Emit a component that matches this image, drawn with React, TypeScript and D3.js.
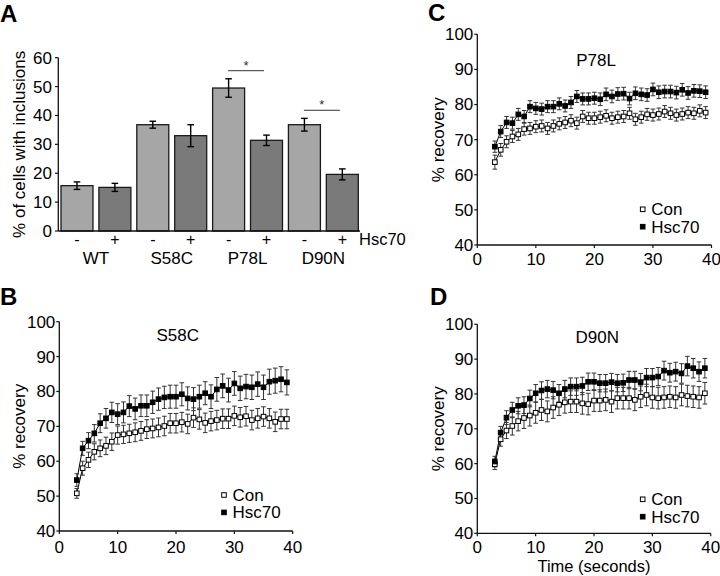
import React from 'react';
import * as d3 from 'd3';

const FONT = '"Liberation Sans", Arial, Helvetica, sans-serif';

// ---------- Panel A data ----------
const genotypes = ['WT', 'S58C', 'P78L', 'D90N'];
const hscSigns = ['-', '+'];
const inclusionMeans = [15.7, 15.1, 36.8, 33.0, 49.5, 31.4, 36.8, 19.6];
const inclusionErrors = [1.3, 1.4, 1.2, 3.8, 3.2, 1.8, 2.2, 1.9];
const inclusionTicks = [0, 10, 20, 30, 40, 50, 60];
const sigGenotypes = ['P78L', 'D90N'];
const sigLevels = [55.5, 41.8];
const hscAxisLabel = 'Hsc70';

// ---------- Recovery data ----------
const timePoints = [3, 4, 5, 6, 7, 8, 9, 10, 11, 12, 13, 14, 15, 16, 17, 18, 19, 20, 21, 22, 23, 24, 25, 26, 27, 28, 29, 30, 31, 32, 33, 34, 35, 36, 37, 38, 39];
const recoveryTicks = [40, 50, 60, 70, 80, 90, 100];
const timeTicks = [0, 10, 20, 30, 40];
const seriesNames = ['Con', 'Hsc70'];

const s58cCon = [50.8, 58.0, 60.4, 62.7, 63.7, 64.4, 65.6, 67.5, 67.7, 68.0, 68.3, 68.7, 69.2, 69.4, 69.7, 70.1, 70.9, 70.9, 71.2, 70.7, 72.5, 72.0, 71.0, 71.5, 71.8, 72.2, 72.2, 73.0, 72.6, 72.9, 71.8, 72.3, 72.8, 72.3, 71.3, 72.1, 72.1];
const s58cConErr = [1.4, 2.0, 2.2, 2.3, 2.4, 2.5, 2.5, 2.6, 2.6, 2.6, 2.7, 2.7, 2.7, 2.7, 2.7, 2.8, 2.8, 2.8, 2.8, 2.8, 2.8, 2.8, 2.8, 2.8, 2.8, 2.8, 2.8, 2.8, 2.8, 2.8, 2.8, 2.8, 2.8, 2.8, 2.8, 2.8, 2.8];
const s58cHsc = [54.6, 63.7, 65.9, 68.0, 70.9, 72.3, 74.0, 73.5, 74.0, 75.8, 75.0, 75.9, 75.9, 76.9, 77.8, 78.3, 78.5, 78.5, 79.2, 78.0, 77.8, 78.5, 79.5, 78.5, 80.6, 81.6, 80.4, 82.3, 80.9, 81.4, 81.2, 82.1, 81.2, 82.8, 83.1, 83.5, 82.6];
const s58cHscErr = [1.8, 2.0, 2.3, 2.5, 2.7, 2.8, 2.9, 3.0, 3.0, 3.0, 3.1, 3.1, 3.1, 3.2, 3.2, 3.2, 3.3, 3.3, 3.3, 3.3, 3.3, 3.3, 3.3, 3.4, 3.4, 3.4, 3.4, 3.4, 3.5, 3.5, 3.5, 3.5, 3.5, 3.6, 3.6, 3.6, 3.6];

const p78lCon = [63.6, 67.1, 69.4, 70.9, 71.5, 73.0, 73.2, 73.7, 73.9, 73.2, 73.9, 74.5, 74.9, 75.4, 74.7, 76.6, 76.1, 76.1, 76.4, 76.8, 76.1, 76.4, 76.6, 77.5, 75.8, 76.4, 77.2, 77.0, 77.3, 78.0, 77.5, 77.0, 77.3, 77.7, 77.5, 78.2, 77.7];
const p78lConErr = [2.0, 1.8, 1.7, 1.7, 1.7, 1.7, 1.7, 1.7, 1.7, 1.7, 1.7, 1.7, 1.7, 1.7, 1.7, 1.7, 1.7, 1.7, 1.7, 1.7, 1.7, 1.7, 1.7, 1.7, 1.7, 1.7, 1.7, 1.7, 1.7, 1.7, 1.7, 1.7, 1.7, 1.7, 1.7, 1.7, 1.7];
const p78lHsc = [68.0, 72.3, 74.9, 74.7, 77.2, 76.6, 79.4, 78.9, 78.7, 79.4, 79.4, 80.2, 79.6, 80.6, 82.3, 81.6, 81.6, 81.8, 81.5, 82.9, 82.3, 83.0, 83.1, 81.7, 83.2, 82.9, 82.7, 84.3, 83.5, 83.7, 83.7, 83.4, 84.2, 83.3, 83.9, 83.8, 83.5];
const p78lHscErr = [1.6, 1.7, 1.7, 1.7, 1.7, 1.7, 1.7, 1.7, 1.7, 1.7, 1.7, 1.7, 1.7, 1.7, 1.7, 1.7, 1.7, 1.7, 1.8, 1.8, 1.8, 1.8, 1.8, 1.8, 1.8, 1.8, 1.8, 1.8, 1.8, 1.8, 1.8, 1.8, 1.8, 1.8, 1.8, 1.8, 1.8];

const d90nCon = [59.8, 67.0, 69.5, 70.8, 72.2, 73.1, 73.8, 74.6, 75.4, 75.0, 76.1, 76.9, 77.6, 77.8, 77.8, 77.3, 77.1, 78.1, 78.1, 78.3, 77.8, 78.8, 78.8, 78.8, 78.3, 79.2, 79.7, 79.0, 78.8, 79.0, 79.2, 79.0, 79.7, 79.4, 79.2, 79.0, 80.2];
const d90nConErr = [1.5, 2.0, 2.3, 2.6, 2.8, 3.0, 3.0, 3.0, 3.0, 3.0, 3.1, 3.1, 3.1, 3.1, 3.1, 3.1, 3.1, 3.1, 3.1, 3.1, 3.1, 3.1, 3.1, 3.1, 3.1, 3.1, 3.1, 3.1, 3.1, 3.1, 3.1, 3.1, 3.1, 3.1, 3.1, 3.1, 3.1];
const d90nHsc = [60.6, 68.9, 73.2, 75.4, 76.6, 76.8, 78.7, 80.2, 81.0, 81.4, 81.1, 80.2, 81.4, 82.1, 82.1, 82.3, 83.5, 83.5, 83.1, 83.1, 83.4, 83.1, 83.2, 84.0, 84.0, 83.4, 84.7, 84.7, 85.0, 86.7, 86.1, 86.4, 85.9, 88.0, 87.4, 86.4, 87.4];
const d90nHscErr = [1.5, 1.8, 2.0, 2.2, 2.3, 2.4, 2.4, 2.5, 2.5, 2.5, 2.5, 2.5, 2.5, 2.5, 2.5, 2.5, 2.5, 2.5, 2.5, 2.5, 2.5, 2.5, 2.5, 2.5, 2.5, 2.5, 2.6, 2.6, 2.6, 2.7, 2.7, 2.7, 2.8, 2.8, 2.8, 2.8, 2.8];

const AXIS = '#111';

function BarPanel() {
  const n = genotypes.length * hscSigns.length;
  const idx = d3.range(n);
  const x = d3.scaleBand<number>().domain(idx).range([58.3, 361]).paddingInner(0.156).paddingOuter(0.071);
  const y = d3.scaleLinear().domain([0, 60]).range([231, 57.7]);
  const cx = (i: number) => (x(i) as number) + x.bandwidth() / 2;
  return (
    <g>
      <text x={0} y={21.5} fontSize={24} fontWeight="bold" fontFamily={FONT}>A</text>
      <text transform={`translate(19.5,${(y(0) + y(60)) / 2}) rotate(-90)`} textAnchor="middle" dy="0.35em" fontSize={17} fontFamily={FONT}>% of cells with inclusions</text>
      {idx.map(i => (
        <rect key={i} x={x(i)} y={y(inclusionMeans[i])} width={x.bandwidth()} height={y(0) - y(inclusionMeans[i])}
          fill={i % 2 === 0 ? '#a6a6a6' : '#7a7a7a'} stroke="#1a1a1a" strokeWidth={1.3} />
      ))}
      {idx.map(i => {
        const c = cx(i);
        const top = y(inclusionMeans[i] + inclusionErrors[i]);
        const bot = y(inclusionMeans[i] - inclusionErrors[i]);
        return (
          <g key={i} stroke="#000" strokeWidth={1.4}>
            <line x1={c} x2={c} y1={top} y2={bot} />
            <line x1={c - 3.3} x2={c + 3.3} y1={top} y2={top} />
            <line x1={c - 3.3} x2={c + 3.3} y1={bot} y2={bot} />
          </g>
        );
      })}
      <line x1={58.3} x2={58.3} y1={y(60)} y2={y(0)} stroke={AXIS} strokeWidth={1.3} />
      <line x1={58.3} x2={360} y1={y(0)} y2={y(0)} stroke={AXIS} strokeWidth={1.3} />
      {inclusionTicks.map(t => (
        <g key={t}>
          <line x1={55} x2={58.3} y1={y(t)} y2={y(t)} stroke={AXIS} strokeWidth={1.2} />
          <text x={52} y={y(t)} dy="0.35em" textAnchor="end" fontSize={17} fontFamily={FONT}>{t}</text>
        </g>
      ))}
      {idx.map(i => (
        <text key={i} x={cx(i)} y={245} textAnchor="middle" fontSize={16} fontFamily={FONT}>{hscSigns[i % 2]}</text>
      ))}
      {genotypes.map((g, gi) => (
        <text key={g} x={(cx(gi * 2) + cx(gi * 2 + 1)) / 2} y={264} textAnchor="middle" fontSize={17} fontFamily={FONT}>{g}</text>
      ))}
      <text x={359} y={245} fontSize={16.5} fontFamily={FONT}>{hscAxisLabel}</text>
      {sigGenotypes.map((g, si) => {
        const gi = genotypes.indexOf(g);
        const a = cx(gi * 2) - 0.5;
        const b = cx(gi * 2 + 1) - 2.5;
        const yy = y(sigLevels[si]);
        return (
          <g key={g}>
            <line x1={a} x2={b} y1={yy} y2={yy} stroke="#333" strokeWidth={1} />
            <text x={(a + b) / 2} y={yy - 1} textAnchor="middle" fontSize={13} fontFamily={FONT} fill="#333">*</text>
          </g>
        );
      })}
    </g>
  );
}

type PanelProps = {
  letter: string; letterX: number; letterY: number;
  title: string; titleX: number; titleY: number;
  con: number[]; conErr: number[]; hsc: number[]; hscErr: number[];
  xr: [number, number]; yr: [number, number];
  ylabX: number; tickY: number;
  legX: number; legY: number;
  xlabel?: string;
};

function RecoveryPanel(p: PanelProps) {
  const x = d3.scaleLinear().domain([0, 40]).range(p.xr);
  const y = d3.scaleLinear().domain([40, 100]).range(p.yr);
  const line = d3.line<number>().x((_, i) => x(timePoints[i])).y(v => y(v));
  const ms = 4.6;
  const series = [
    { vals: p.con, errs: p.conErr, fill: '#fff' },
    { vals: p.hsc, errs: p.hscErr, fill: '#000' },
  ];
  return (
    <g>
      <text x={p.letterX} y={p.letterY} fontSize={24} fontWeight="bold" fontFamily={FONT}>{p.letter}</text>
      <text transform={`translate(${p.ylabX},${(y(40) + y(100)) / 2}) rotate(-90)`} textAnchor="middle" dy="0.35em" fontSize={17} fontFamily={FONT}>% recovery</text>
      <text x={p.titleX} y={p.titleY} textAnchor="middle" fontSize={17} fontFamily={FONT}>{p.title}</text>
      {series.map((s, si) => (
        <path key={si} d={line(s.vals) || ''} fill="none" stroke="#000" strokeWidth={1} />
      ))}
      {series.map((s, si) => (
        <g key={si} stroke="#333" strokeWidth={1}>
          {s.vals.map((v, i) => {
            const cx = x(timePoints[i]);
            const t = y(v + s.errs[i]);
            const b = y(v - s.errs[i]);
            return (
              <g key={i}>
                <line x1={cx} x2={cx} y1={t} y2={b} />
                <line x1={cx - 2.3} x2={cx + 2.3} y1={t} y2={t} />
                <line x1={cx - 2.3} x2={cx + 2.3} y1={b} y2={b} />
              </g>
            );
          })}
        </g>
      ))}
      {series.map((s, si) => (
        <g key={si}>
          {s.vals.map((v, i) => (
            <rect key={i} x={x(timePoints[i]) - ms / 2} y={y(v) - ms / 2} width={ms} height={ms} fill={s.fill} stroke="#000" strokeWidth={1} />
          ))}
        </g>
      ))}
      <line x1={x(0)} x2={x(0)} y1={y(100)} y2={y(40)} stroke={AXIS} strokeWidth={1.3} />
      <line x1={x(0)} x2={x(40)} y1={y(40)} y2={y(40)} stroke={AXIS} strokeWidth={1.3} />
      {recoveryTicks.map(t => (
        <g key={t}>
          <line x1={x(0) - 3} x2={x(0)} y1={y(t)} y2={y(t)} stroke={AXIS} strokeWidth={1.2} />
          <text x={x(0) - 4} y={y(t)} dy="0.35em" textAnchor="end" fontSize={17} fontFamily={FONT}>{t}</text>
        </g>
      ))}
      {timeTicks.map(t => (
        <g key={t}>
          <line x1={x(t)} x2={x(t)} y1={y(40)} y2={y(40) + 3} stroke={AXIS} strokeWidth={1.2} />
          <text x={x(t)} y={p.tickY} textAnchor="middle" fontSize={17} fontFamily={FONT}>{t}</text>
        </g>
      ))}
      {series.map((s, si) => (
        <g key={si}>
          <rect x={p.legX - ms / 2} y={p.legY + si * 17.4 - ms / 2} width={ms} height={ms} fill={s.fill} stroke="#000" strokeWidth={1} />
          <text x={p.legX + 8.5} y={p.legY + si * 17.4 + 6} fontSize={17} fontFamily={FONT}>{seriesNames[si]}</text>
        </g>
      ))}
      {p.xlabel ? (
        <text x={(x(0) + x(40)) / 2} y={572} textAnchor="middle" fontSize={16.5} fontFamily={FONT}>{p.xlabel}</text>
      ) : null}
    </g>
  );
}

export default function App() {
  return (
    <svg width={720} height={576} viewBox="0 0 720 576" style={{ position: 'absolute', left: 0, top: 0, background: '#fff' }}>
      <rect width={720} height={576} fill="#fff" />
      <BarPanel />
      <RecoveryPanel letter="B" letterX={0} letterY={305} title="S58C" titleX={177.7} titleY={340.5}
        con={s58cCon} conErr={s58cConErr} hsc={s58cHsc} hscErr={s58cHscErr}
        xr={[59.3, 292.7]} yr={[531, 321.7]} ylabX={19.5} tickY={553} legX={224} legY={495} />
      <RecoveryPanel letter="C" letterX={428} letterY={21} title="P78L" titleX={596} titleY={65.7}
        con={p78lCon} conErr={p78lConErr} hsc={p78lHsc} hscErr={p78lHscErr}
        xr={[477.3, 711.5]} yr={[245, 34.3]} ylabX={438} tickY={265} legX={642.7} legY={209.3} />
      <RecoveryPanel letter="D" letterX={430} letterY={305} title="D90N" titleX={597.3} titleY={342.7}
        con={d90nCon} conErr={d90nConErr} hsc={d90nHsc} hscErr={d90nHscErr}
        xr={[477.3, 710.7]} yr={[533.3, 324.3]} ylabX={438} tickY={553} legX={642.7} legY={499.3}
        xlabel="Time (seconds)" />
    </svg>
  );
}
